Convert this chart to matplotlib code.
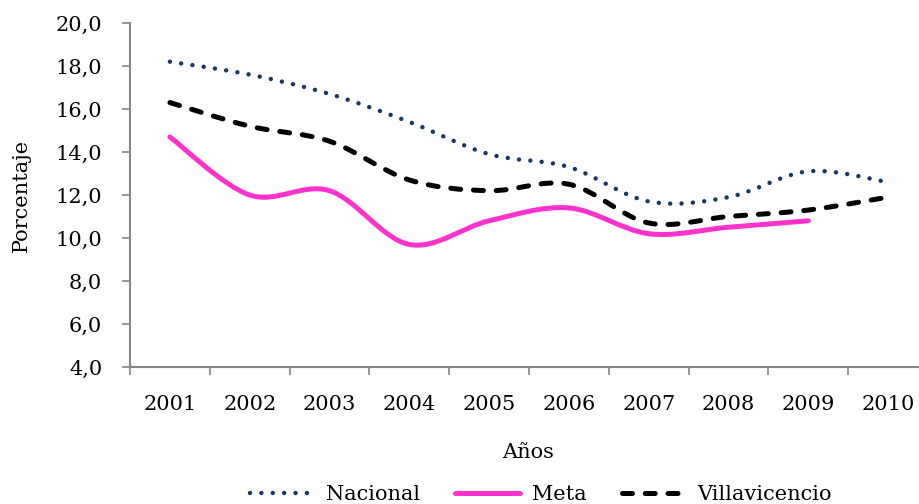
import numpy as np
import matplotlib.pyplot as plt
from matplotlib.path import Path
from matplotlib.patches import PathPatch
from matplotlib.lines import Line2D

# data
years = ["2001", "2002", "2003", "2004", "2005", "2006", "2007", "2008", "2009", "2010"]
nacional = [18.2, 17.6, 16.7, 15.4, 13.9, 13.3, 11.7, 11.9, 13.1, 12.6]
meta = [14.7, 12.0, 12.2, 9.7, 10.8, 11.4, 10.2, 10.5, 10.8]
villavicencio = [16.3, 15.2, 14.5, 12.7, 12.2, 12.5, 10.7, 11.0, 11.3, 11.9]
y_ticks = [4, 6, 8, 10, 12, 14, 16, 18, 20]

plt.rcParams['font.family'] = ['DejaVu Serif']
FS = 15
GRAY = '#868686'


def smooth_path(xs, ys):
    # Excel-like smoothed line: cubic Bezier segments through every point
    pts = np.column_stack([xs, ys]).astype(float)
    n = len(pts)
    verts = [pts[0]]
    codes = [Path.MOVETO]
    for i in range(n - 1):
        p0 = pts[i - 1] if i > 0 else pts[i]
        p1, p2 = pts[i], pts[i + 1]
        p3 = pts[i + 2] if i + 2 < n else pts[i + 1]
        c1 = p1 + (p2 - p0) / 6.0
        c2 = p2 - (p3 - p1) / 6.0
        verts += [c1, c2, p2]
        codes += [Path.CURVE4] * 3
    return Path(verts, codes)


fig = plt.figure(figsize=(9.2, 5.04), dpi=100)
ax = fig.add_axes([130 / 920, 137 / 504, 798 / 920, 344 / 504])

styles = [
    (nacional, 'Nacional', dict(color='#17375E', linewidth=3.2, linestyle=(0, (0.01, 2.55)))),
    (meta, 'Meta', dict(color='#FF33CC', linewidth=3.6, linestyle='-')),
    (villavicencio, 'Villavicencio', dict(color='black', linewidth=3.6, linestyle=(0, (2.0, 2.55)))),
]

handles = []
for vals, name, st in styles:
    xs = np.arange(len(vals))
    patch = PathPatch(smooth_path(xs, vals), fill=False, edgecolor=st['color'],
                      linewidth=st['linewidth'], linestyle=st['linestyle'],
                      capstyle='round', joinstyle='round')
    ax.add_patch(patch)
    h = Line2D([], [], color=st['color'], linewidth=st['linewidth'],
               linestyle=st['linestyle'], dash_capstyle='round', solid_capstyle='round')
    handles.append(h)

ax.set_xlim(-0.5, len(years) - 0.5)
ax.set_ylim(4, 20)

ax.set_yticks(y_ticks)
ax.set_yticklabels([f"{v:.1f}".replace('.', ',') for v in y_ticks], fontsize=FS)
ax.set_xticks(np.arange(len(years) + 1) - 0.5)
ax.set_xticklabels([])
ax.set_xticks(np.arange(len(years)), minor=True)
ax.set_xticklabels(years, minor=True, fontsize=FS)
ax.tick_params(axis='x', which='minor', length=0, pad=20)
ax.tick_params(axis='x', which='major', length=6, color=GRAY, width=1.2)
ax.tick_params(axis='y', length=6, color=GRAY, width=1.2, pad=14)

for s in ['top', 'right']:
    ax.spines[s].set_visible(False)
for s in ['left', 'bottom']:
    ax.spines[s].set_color(GRAY)
    ax.spines[s].set_linewidth(1.5)

ax.set_ylabel('Porcentaje', fontsize=FS, labelpad=18)
fig.text(528 / 920, 1 - 452 / 504, 'Años', fontsize=FS, ha='center', va='center')

fig.legend(handles, [s[1] for s in styles], loc='center', bbox_to_anchor=(541 / 920, 1 - 495 / 504),
           ncol=3, frameon=False, fontsize=FS, handlelength=3.1, handletextpad=0.55,
           columnspacing=1.7, borderaxespad=0, borderpad=0)

fig.savefig('out.png', dpi=100)
